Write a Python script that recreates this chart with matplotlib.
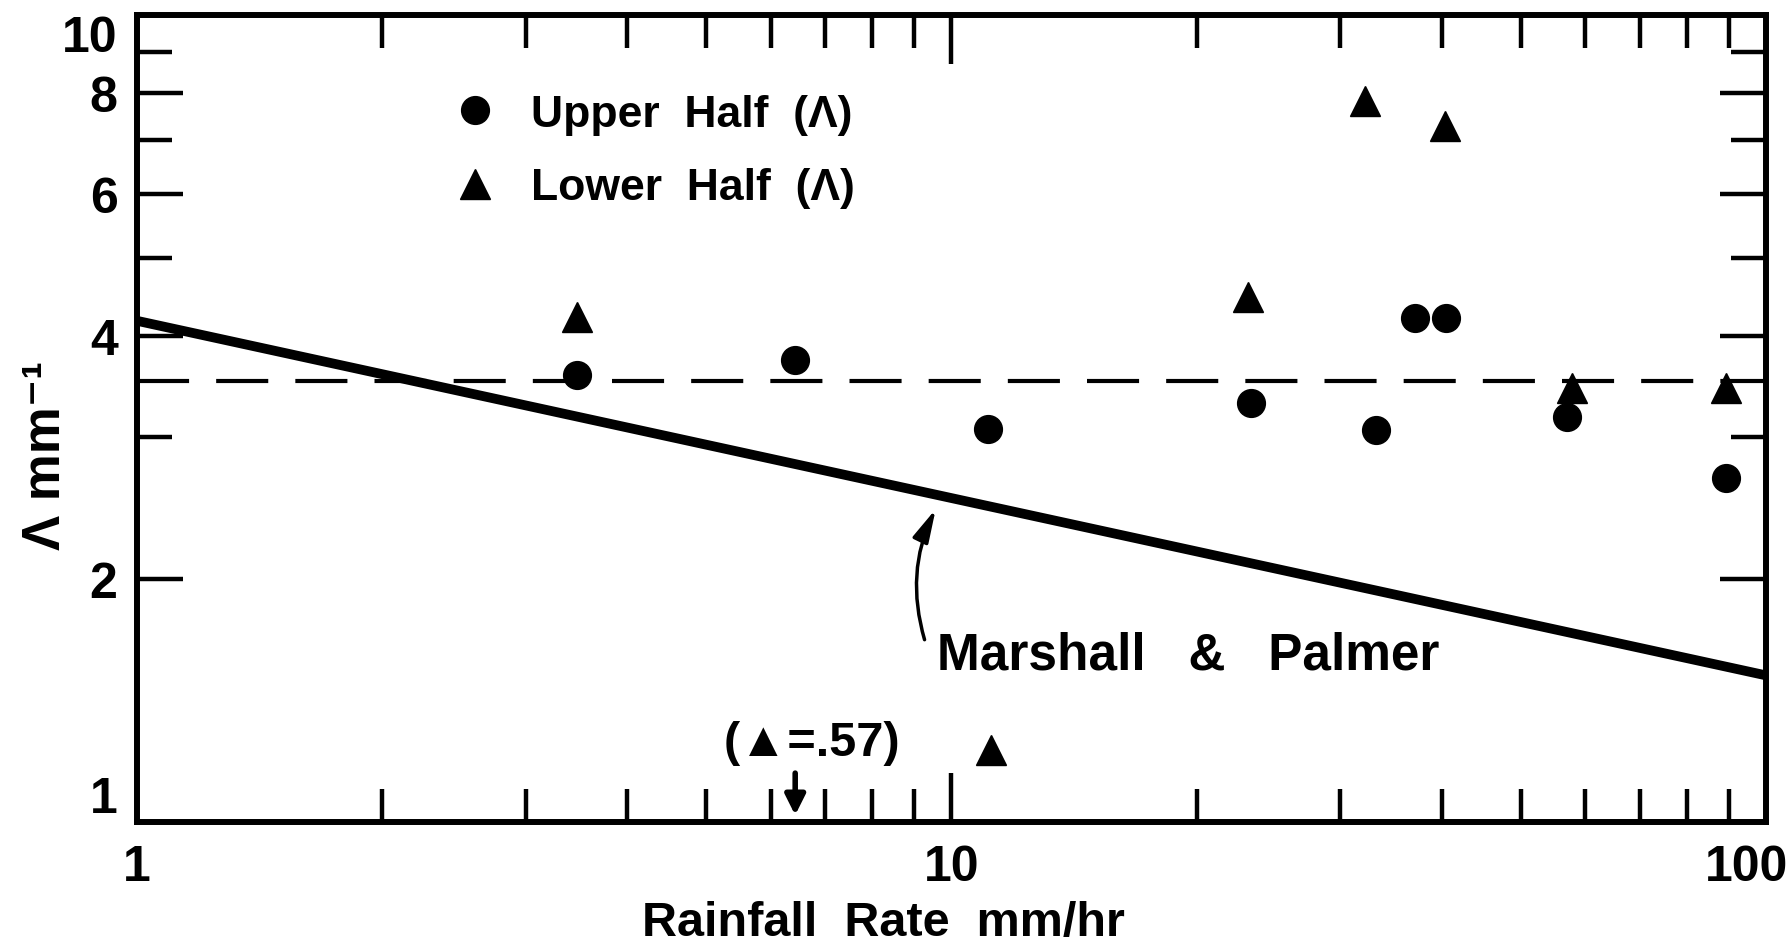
import matplotlib
matplotlib.use("Agg")
import matplotlib.pyplot as plt
import matplotlib.transforms as mtransforms
from matplotlib.ticker import FixedLocator, NullFormatter, FixedFormatter

plt.rcParams['font.family'] = ['Liberation Sans', 'DejaVu Sans']
plt.rcParams['font.weight'] = 'bold'

# rainfall rate (mm/hr) and slope parameter Lambda (mm^-1)
upper_rate = [3.47, 6.43, 11.1, 23.3, 33.2, 37.1, 40.5, 57.0, 89.3]
upper_lam = [3.58, 3.74, 3.07, 3.31, 3.06, 4.21, 4.21, 3.18, 2.67]

lower_rate = [3.47, 11.2, 23.1, 32.2, 40.4, 57.8, 89.3]
lower_lam = [4.22, 1.23, 4.47, 7.82, 7.28, 3.45, 3.45]

# Marshall & Palmer line, read at the two ends of the axis
mp_rate = [1, 100]
mp_lam = [4.18, 1.52]

mean_rate = [1, 100]
mean_lam = [3.52, 3.52]

# off-scale lower half point
off_rate = 6.43
off_label = '(\u25B2=.57)'

ytick_vals = [1, 2, 4, 6, 8, 10]
ytick_labels = ['1', '2', '4', '6', '8', '10']
yminor_vals = [3, 5, 7, 9]
xtick_vals = [1, 10, 100]
xtick_labels = ['1', '10', '100']
xminor_vals = [2, 3, 4, 5, 6, 7, 8, 9, 20, 30, 40, 50, 60, 70, 80, 90]

fig = plt.figure(figsize=(17.88, 9.45), dpi=100)
ax = fig.add_axes([0.0766, 0.129, 0.911, 0.854])
ax.set_xscale('log')
ax.set_yscale('log')
ax.set_xlim(1, 100)
ax.set_ylim(1, 10)

ax.plot(mp_rate, mp_lam, color='black', lw=7, solid_capstyle='butt', zorder=3)
ax.plot(mean_rate, mean_lam, color='black', lw=3, dashes=(12.5, 6.5), zorder=3)

ax.plot(upper_rate, upper_lam, 'o', color='black', ms=20, ls='none',
        label='Upper  Half  (\u039B)', zorder=4)
ax.plot(lower_rate, lower_lam, '^', color='black', ms=21, ls='none',
        label='Lower  Half  (\u039B)', zorder=4, clip_on=False)

leg = ax.legend(loc='upper left', bbox_to_anchor=(0.18, 0.93), frameon=False,
                fontsize=32, handletextpad=0.78, labelspacing=0.73,
                handlelength=1.0, borderpad=0)

# annotations
ax.text(9.6, 1.61, 'Marshall   &   Palmer', fontsize=37, ha='left', va='center')
ax.annotate('', xy=(9.6, 2.46), xytext=(9.29, 1.67),
            arrowprops=dict(arrowstyle='-|>,head_length=1.0,head_width=0.25',
                            color='black', lw=2.5, mutation_scale=20,
                            connectionstyle='arc3,rad=-0.2'))

ax.text(6.75, 1.255, off_label, fontsize=35, ha='center', va='center')
ax.annotate('', xy=(off_rate, 1.02), xytext=(off_rate, 1.15),
            arrowprops=dict(arrowstyle='-|>,head_length=0.6,head_width=0.3',
                            color='black', lw=4, mutation_scale=20,
                            shrinkA=0, shrinkB=0))

# axes styling
for s in ax.spines.values():
    s.set_linewidth(4.3)

ax.xaxis.set_major_locator(FixedLocator(xtick_vals))
ax.xaxis.set_major_formatter(FixedFormatter(xtick_labels))
ax.xaxis.set_minor_locator(FixedLocator(xminor_vals))
ax.xaxis.set_minor_formatter(NullFormatter())
ax.yaxis.set_major_locator(FixedLocator(ytick_vals))
ax.yaxis.set_major_formatter(FixedFormatter(ytick_labels))
ax.yaxis.set_minor_locator(FixedLocator(yminor_vals))
ax.yaxis.set_minor_formatter(NullFormatter())

ax.tick_params(which='both', direction='in', top=True, right=True, width=3.2)
ax.tick_params(axis='x', which='major', length=35, pad=16, labelsize=36)
ax.tick_params(axis='x', which='minor', length=24)
ax.tick_params(axis='y', which='major', length=33, pad=14, labelsize=36)
ax.tick_params(axis='y', which='minor', length=25)

# end labels sit inside the axis ends, as in the original lettering
ylabs = ax.get_yticklabels()
ylabs[0].set_verticalalignment('bottom')
ylabs[-1].set_verticalalignment('top')
xlabs = ax.get_xticklabels()
xlabs[-1].set_transform(xlabs[-1].get_transform()
                        + mtransforms.ScaledTranslation(-14 / 72, 0, fig.dpi_scale_trans))

ax.set_xlabel('Rainfall  Rate  mm/hr', fontsize=35, fontweight='bold')
ax.xaxis.set_label_coords(0.458, -0.097)
fig.text(46 / 1788, 1 - 456 / 945, '\u039B mm\u207B\u00B9', fontsize=38,
         fontweight='bold', rotation=90, ha='center', va='center')

fig.savefig('out.png', dpi=100)
